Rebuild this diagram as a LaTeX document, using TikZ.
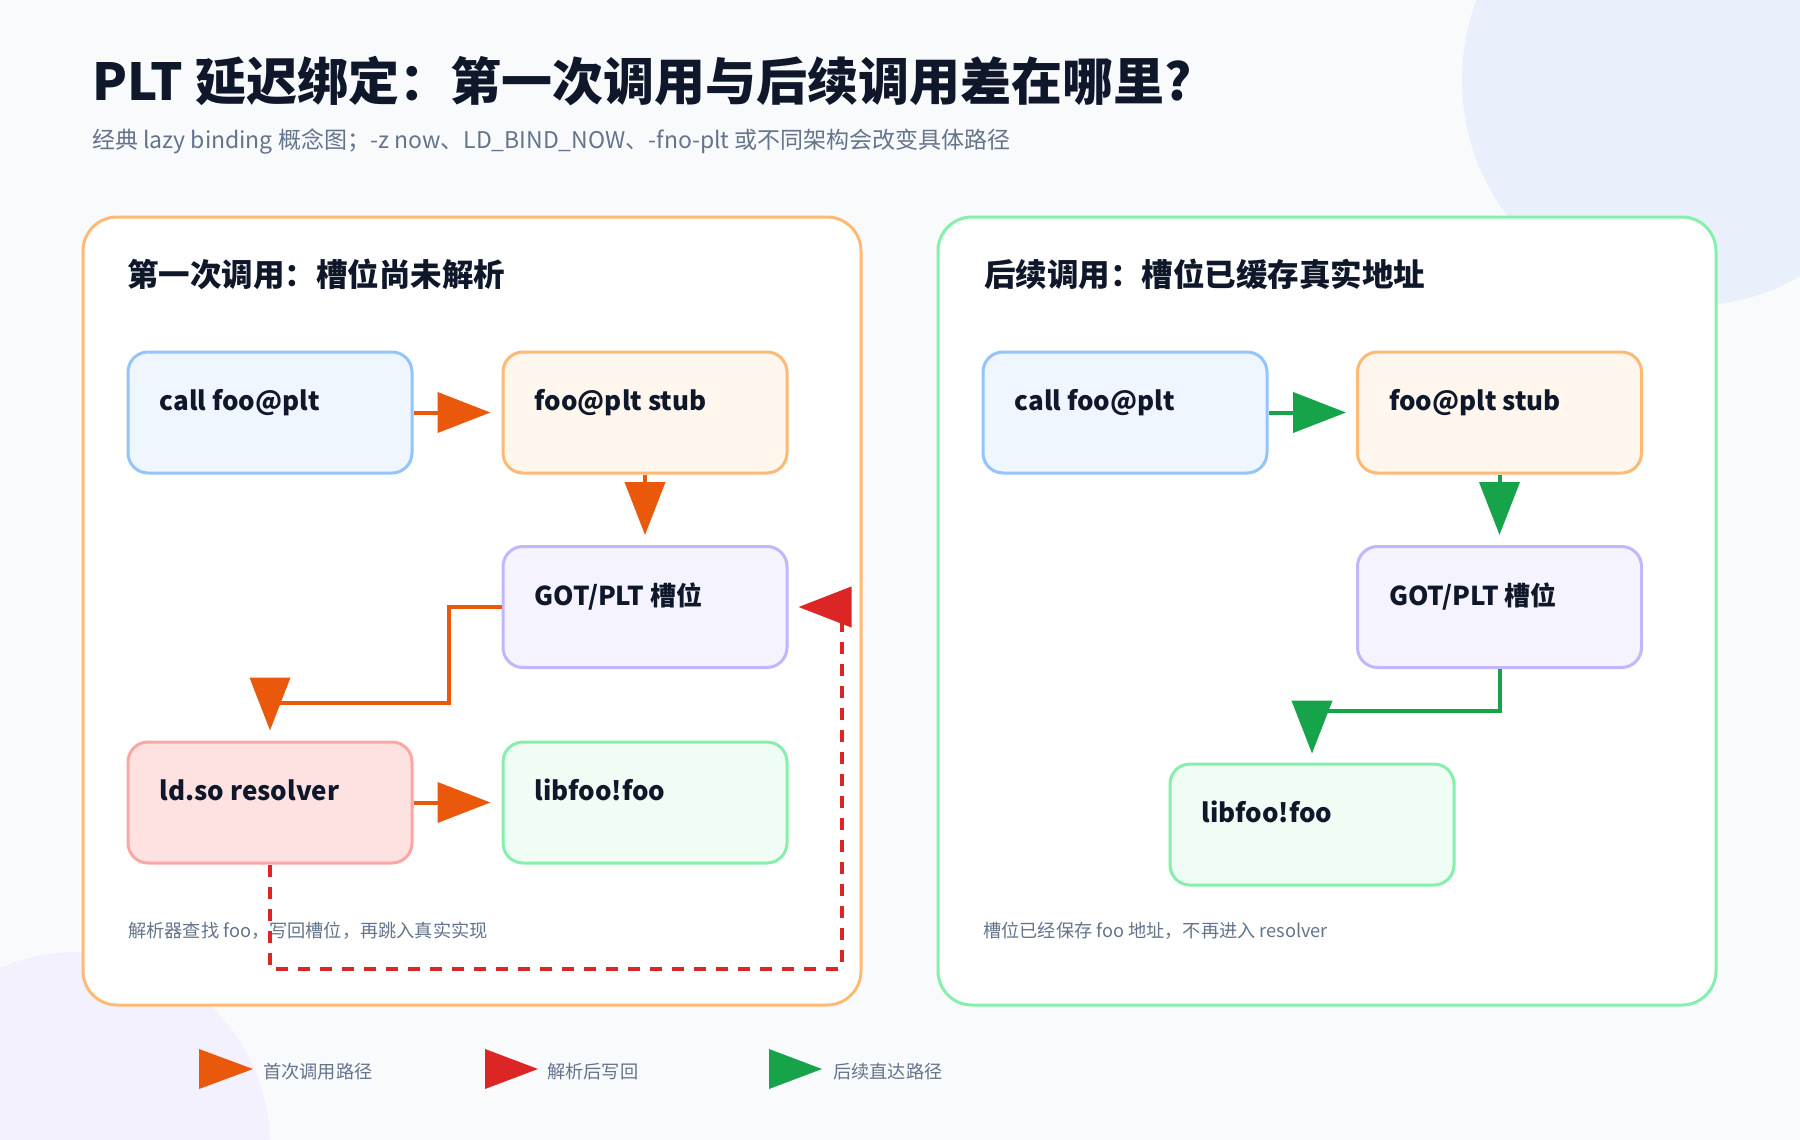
\documentclass[tikz,border=0pt]{standalone}
\usepackage{fontspec}
\setmainfont{Noto Sans CJK SC}
\usetikzlibrary{arrows.meta,calc}
\definecolor{bgc}{HTML}{F8FAFC}
\definecolor{circB}{HTML}{E9F0FC}
\definecolor{circV}{HTML}{F3F1FD}
\definecolor{ink}{HTML}{0F172A}
\definecolor{muted}{HTML}{64748B}
\definecolor{corange}{HTML}{EA580C}
\definecolor{cred}{HTML}{DC2626}
\definecolor{cgreen}{HTML}{16A34A}
\definecolor{bBlue}{HTML}{93C5FD}\definecolor{fBlue}{HTML}{EFF6FF}
\definecolor{bOrange}{HTML}{FDBA74}\definecolor{fOrange}{HTML}{FFF7ED}
\definecolor{bViolet}{HTML}{C4B5FD}\definecolor{fViolet}{HTML}{F5F3FF}
\definecolor{bRed}{HTML}{FCA5A5}\definecolor{fRed}{HTML}{FEE2E2}
\definecolor{bGreen}{HTML}{86EFAC}\definecolor{fGreen}{HTML}{F0FDF4}
\tikzset{
  panel/.style={line width=3pt, rounded corners=34pt, fill=white},
  box/.style={line width=3pt, rounded corners=20pt, minimum width=284pt, minimum height=121pt, inner sep=0pt},
  bluebox/.style={box, draw=bBlue, fill=fBlue},
  orangebox/.style={box, draw=bOrange, fill=fOrange},
  violetbox/.style={box, draw=bViolet, fill=fViolet},
  redbox/.style={box, draw=bRed, fill=fRed},
  greenbox/.style={box, draw=bGreen, fill=fGreen},
  boxtxt/.style={anchor=base west, inner sep=0pt, text=ink, font=\fontsize{26}{30}\selectfont\bfseries},
  ptitle/.style={anchor=base west, inner sep=0pt, text=ink, font=\fontsize{31.5}{36}\selectfont\bfseries},
  note/.style={anchor=base west, inner sep=0pt, text=muted, font=\fontsize{18.2}{22}\selectfont},
  tip/.style={-{Triangle[length=53pt,width=40pt]}},
  arrO/.style={draw=corange, line width=4pt, tip},
  arrG/.style={draw=cgreen, line width=4pt, tip},
  arrR/.style={draw=cred, line width=4pt, dash pattern=on 12pt off 10pt, tip},
}
\begin{document}
\begin{tikzpicture}[x=1pt,y=-1pt]
\useasboundingbox (0,0) rectangle (1800,1140);
\fill[bgc] (0,0) rectangle (1800,1140);
\fill[circB] (1688,80) circle[radius=226];
\fill[circV] (77,1145) circle[radius=193];

% title
\node[anchor=base west, inner sep=0pt, text=ink, font=\fontsize{51}{60}\selectfont\bfseries] (title) at (92,100) {PLT 延迟绑定：第一次调用与后续调用差在哪里?};
\node[anchor=base west, inner sep=0pt, text=muted, font=\fontsize{23}{28}\selectfont] (subtitle) at (92,148) {经典 lazy binding 概念图；-z now、LD\_BIND\_NOW、-fno-plt 或不同架构会改变具体路径};

% panels
\draw[panel, draw=bOrange] (83,217) rectangle (861,1005);
\draw[panel, draw=bGreen] (938,217) rectangle (1716,1005);
\node[ptitle] (ptl) at (127,286) {第一次调用：槽位尚未解析};
\node[ptitle] (ptr) at (984,286) {后续调用：槽位已缓存真实地址};

% left boxes
\node[bluebox] (call1) at (270,412.5) {};
\node[orangebox] (stub1) at (645,412.5) {};
\node[violetbox] (got1) at (645,607) {};
\node[redbox] (res1) at (270,802.5) {};
\node[greenbox] (lib1) at (645,802.5) {};
\node[boxtxt] (tcall1) at ($(call1.north west)+(33,60)$) {call foo@plt};
\node[boxtxt] (tstub1) at ($(stub1.north west)+(33,60)$) {foo@plt stub};
\node[boxtxt] (tgot1) at ($(got1.north west)+(33,60)$) {GOT/PLT 槽位};
\node[boxtxt] (tres1) at ($(res1.north west)+(33,60)$) {ld.so resolver};
\node[boxtxt] (tlib1) at ($(lib1.north west)+(33,60)$) {libfoo!foo};
\node[note] (notel) at (128,937) {解析器查找 foo，写回槽位，再跳入真实实现};

% right boxes
\node[bluebox] (call2) at (1125,412.5) {};
\node[orangebox] (stub2) at (1499.5,412.5) {};
\node[violetbox] (got2) at (1499.5,607) {};
\node[greenbox] (lib2) at (1312,824.5) {};
\node[boxtxt] (tcall2) at ($(call2.north west)+(33,60)$) {call foo@plt};
\node[boxtxt] (tstub2) at ($(stub2.north west)+(33,60)$) {foo@plt stub};
\node[boxtxt] (tgot2) at ($(got2.north west)+(33,60)$) {GOT/PLT 槽位};
\node[boxtxt] (tlib2) at ($(lib2.north west)+(33,60)$) {libfoo!foo};
\node[note] (noter) at (983,937) {槽位已经保存 foo 地址，不再进入 resolver};

% left connectors
\draw[arrO] (call1.east) -- ($(stub1.west)+(-11,0)$);
\draw[arrO] (stub1.south) -- ($(got1.north)+(0,-10)$);
\draw[arrO] (got1.west) -- ++(-53,0) |- ($(res1.north)+(0,-38)$) -- ($(res1.north)+(0,-10)$);
\draw[arrO] (res1.east) -- ($(lib1.west)+(-11,0)$);
\draw[arrR] (res1.south) -- ++(0,104) -| ($(got1.east)+(53,0)$) -- ($(got1.east)+(10,0)$);

% right connectors
\draw[arrG] (call2.east) -- ($(stub2.west)+(-10,0)$);
\draw[arrG] (stub2.south) -- ($(got2.north)+(0,-10)$);
\draw[arrG] (got2.south) |- ($(lib2.north)+(0,-52)$) -- ($(lib2.north)+(0,-9)$);

% legend
\fill[corange] (199,1049) -- (253,1069) -- (199,1089) -- cycle;
\node[note] (leg1) at (263,1078) {首次调用路径};
\fill[cred] (485,1049) -- (538,1069) -- (485,1089) -- cycle;
\node[note] (leg2) at (547,1078) {解析后写回};
\fill[cgreen] (769,1049) -- (822,1069) -- (769,1089) -- cycle;
\node[note] (leg3) at (833,1078) {后续直达路径};
\end{tikzpicture}
\end{document}
